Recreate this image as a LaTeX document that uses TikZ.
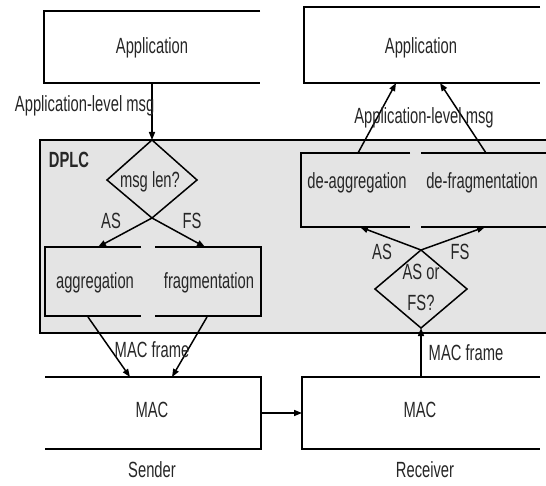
\documentclass[tikz,border=0pt]{standalone}
\usepackage{fontspec}
\setmainfont[FakeStretch=0.67]{Liberation Sans}
\usetikzlibrary{arrows.meta}
\definecolor{dplcgray}{RGB}{228,228,228}
\begin{document}
\begin{tikzpicture}[x=1pt,y=-1pt,line width=1.5pt,
  arr/.style={-{Triangle[length=8pt,width=6pt]}},
  txt/.style={font=\fontsize{22}{24}\selectfont,text=black!85,inner sep=0pt},
  boldtxt/.style={txt,font=\fontsize{22}{24}\selectfont\bfseries}]
\useasboundingbox (0,0) rectangle (546,486);
% DPLC area
\fill[dplcgray] (40,140) rectangle (546,333);
\draw (546,140) -- (40,140) -- (40,333) -- (546,333);
\node[boldtxt] (dplc) at (69,160) {DPLC};
% Sender side
\draw (260,11) -- (44,11) -- (44,83) -- (260,83);
\node[txt] (app1) at (152,48) {Application};
\coordinate (app1b) at (152,83);
\coordinate (d1t) at (152,140);
\coordinate (d1l) at (107,180);
\coordinate (d1r) at (197,180);
\coordinate (d1b) at (152,218);
\draw[arr] (app1b) -- (d1t);
\node[txt,anchor=east] (lbl1) at (155,106) {Application-level msg};
\draw (d1b) -- (d1l) -- (d1t) -- (d1r) -- cycle;
\node[txt] (q1) at (150,182) {msg len?};
\coordinate (aggT) at (98,247);
\coordinate (fragT) at (205,247);
\draw[arr] (d1b) -- (aggT);
\draw[arr] (d1b) -- (fragT);
\node[txt] (as1) at (111,221) {AS};
\node[txt] (fs1) at (192,221) {FS};
\draw (141,247) -- (45,247) -- (45,316) -- (141,316);
\draw (155,247) -- (261,247) -- (261,316) -- (155,316);
\node[txt] (agg) at (95,283) {aggregation};
\node[txt] (frag) at (209,283) {fragmentation};
\coordinate (aggB) at (88,317);
\coordinate (fragB) at (207,317);
\coordinate (mac1a) at (130,377);
\coordinate (mac1b) at (172,377);
\draw[arr] (aggB) -- (mac1a);
\draw[arr] (fragB) -- (mac1b);
\node[txt] (mf1) at (152,350) {MAC frame};
\draw (45,377) -- (261,377) -- (261,449) -- (45,449);
\node[txt] (mac1) at (152,410) {MAC};
\node[txt] (sender) at (152,470) {Sender};
\coordinate (mac1r) at (261,413);
\coordinate (mac2l) at (302,413);
\draw[arr] (mac1r) -- (mac2l);
% Receiver side
\draw (540,377) -- (302,377) -- (302,449) -- (540,449);
\node[txt] (mac2) at (420,410) {MAC};
\node[txt] (receiver) at (425,470) {Receiver};
\coordinate (mac2t) at (421,377);
\coordinate (d2t) at (421,250);
\coordinate (d2l) at (375,289);
\coordinate (d2r) at (467,289);
\coordinate (d2b) at (421,328);
\draw[arr] (mac2t) -- (d2b);
\node[txt] (mf2) at (466,353) {MAC frame};
\draw (d2t) -- (d2l) -- (d2b) -- (d2r) -- cycle;
\node[txt,align=center,font=\fontsize{22}{31}\selectfont] (q2) at (421,287) {AS or\\FS?};
\coordinate (deaggB) at (360,227);
\coordinate (defragB) at (485,227);
\draw[arr] (d2t) -- (deaggB);
\draw[arr] (d2t) -- (defragB);
\node[txt] (as2) at (382,252) {AS};
\node[txt] (fs2) at (460,252) {FS};
\draw (410,153) -- (301,153) -- (301,227) -- (410,227);
\draw (421,153) -- (546,153);
\draw (421,227) -- (546,227);
\node[txt] (deagg) at (357,183) {de-aggregation};
\node[txt] (defrag) at (482,183) {de-fragmentation};
\draw (540,7) -- (304,7) -- (304,83) -- (540,83);
\node[txt] (app2) at (421,48) {Application};
\coordinate (deaggT) at (358,153);
\coordinate (defragT) at (486,153);
\coordinate (app2a) at (396,83);
\coordinate (app2b) at (440,83);
\draw[arr] (deaggT) -- (app2a);
\draw[arr] (defragT) -- (app2b);
\node[txt] (lbl2) at (424,118) {Application-level msg};
\end{tikzpicture}
\end{document}
